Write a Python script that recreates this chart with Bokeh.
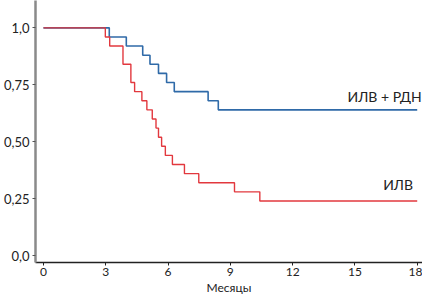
from bokeh.plotting import figure
from bokeh.models import Range1d, FixedTicker
from bokeh.core.properties import value
from bokeh.embed import file_html
from bokeh.resources import INLINE

# Kaplan-Meier style survival data (months, survival proportion)
ilv_rdn_t = [0, 3.17, 3.99, 4.78, 5.13, 5.54, 5.93, 6.30, 7.93, 8.42, 18]
ilv_rdn_s = [1.0, 0.96, 0.92, 0.88, 0.84, 0.80, 0.76, 0.72, 0.68, 0.64, 0.64]

ilv_t = [0, 2.98, 3.19, 3.83, 4.21, 4.39, 4.74, 4.98, 5.24, 5.42, 5.54,
         5.69, 5.87, 6.21, 6.79, 7.48, 9.20, 10.42, 18]
ilv_s = [1.0, 0.96, 0.92, 0.84, 0.76, 0.72, 0.68, 0.64, 0.60, 0.56, 0.52,
         0.48, 0.44, 0.40, 0.36, 0.32, 0.28, 0.24, 0.24]

x_ticks = [0, 3, 6, 9, 12, 15, 18]
y_ticks = [0.0, 0.25, 0.5, 0.75, 1.0]
y_tick_labels = {0.0: "0,0", 0.25: "0,25", 0.5: "0,50", 0.75: "0,75", 1.0: "1,0"}
x_label = "Месяцы"
series_labels = ["ИЛВ + РДН", "ИЛВ"]

BLUE = "#2f6aa8"
RED = "#e2383e"
FONT = "Lato"

p = figure(width=422, height=297, output_backend="svg", toolbar_location=None,
           x_range=Range1d(-0.383, 18.254), y_range=Range1d(-0.030, 1.12),
           min_border_left=33, min_border_right=0, min_border_top=0,
           min_border_bottom=30)
p.outline_line_color = None
p.xgrid.visible = False
p.ygrid.visible = False
p.background_fill_color = "white"
p.border_fill_color = "white"

p.step(ilv_rdn_t, ilv_rdn_s, mode="after", line_color=BLUE, line_width=1.6)
p.step(ilv_t, ilv_s, mode="after", line_color=RED, line_width=1.4)

p.text(x=[18.22], y=[0.698], text=[series_labels[0]], text_align="right",
       text_baseline="middle", text_font=value(FONT), text_font_size="14px",
       text_color="#222222")
p.text(x=[17.8], y=[0.312], text=[series_labels[1]], text_align="right",
       text_baseline="middle", text_font=value(FONT), text_font_size="14px",
       text_color="#222222")

xa = p.xaxis[0]
xa.ticker = FixedTicker(ticks=x_ticks)
xa.axis_label = x_label
xa.axis_label_text_font = FONT
xa.axis_label_text_font_size = "12px"
xa.axis_label_text_font_style = "normal"
xa.axis_label_text_color = "#222222"
xa.axis_label_standoff = 1
xa.major_label_text_font = FONT
xa.major_label_text_font_size = "12px"
xa.major_label_text_color = "#222222"
xa.major_label_standoff = 2
xa.axis_line_color = "#222222"
xa.axis_line_width = 1.5
xa.major_tick_line_color = "#222222"
xa.major_tick_in = 0
xa.major_tick_out = 3
xa.minor_tick_line_color = None

ya = p.yaxis[0]
ya.ticker = FixedTicker(ticks=y_ticks)
ya.major_label_overrides = y_tick_labels
ya.major_label_text_font = FONT
ya.major_label_text_font_size = "13px"
ya.major_label_text_color = "#222222"
ya.major_label_standoff = 3
ya.axis_line_color = "#8a8a8a"
ya.axis_line_width = 2.5
ya.major_tick_line_color = "#555555"
ya.major_tick_in = 0
ya.major_tick_out = 3
ya.minor_tick_line_color = None

open("out.html", "w").write(file_html(p, INLINE))
